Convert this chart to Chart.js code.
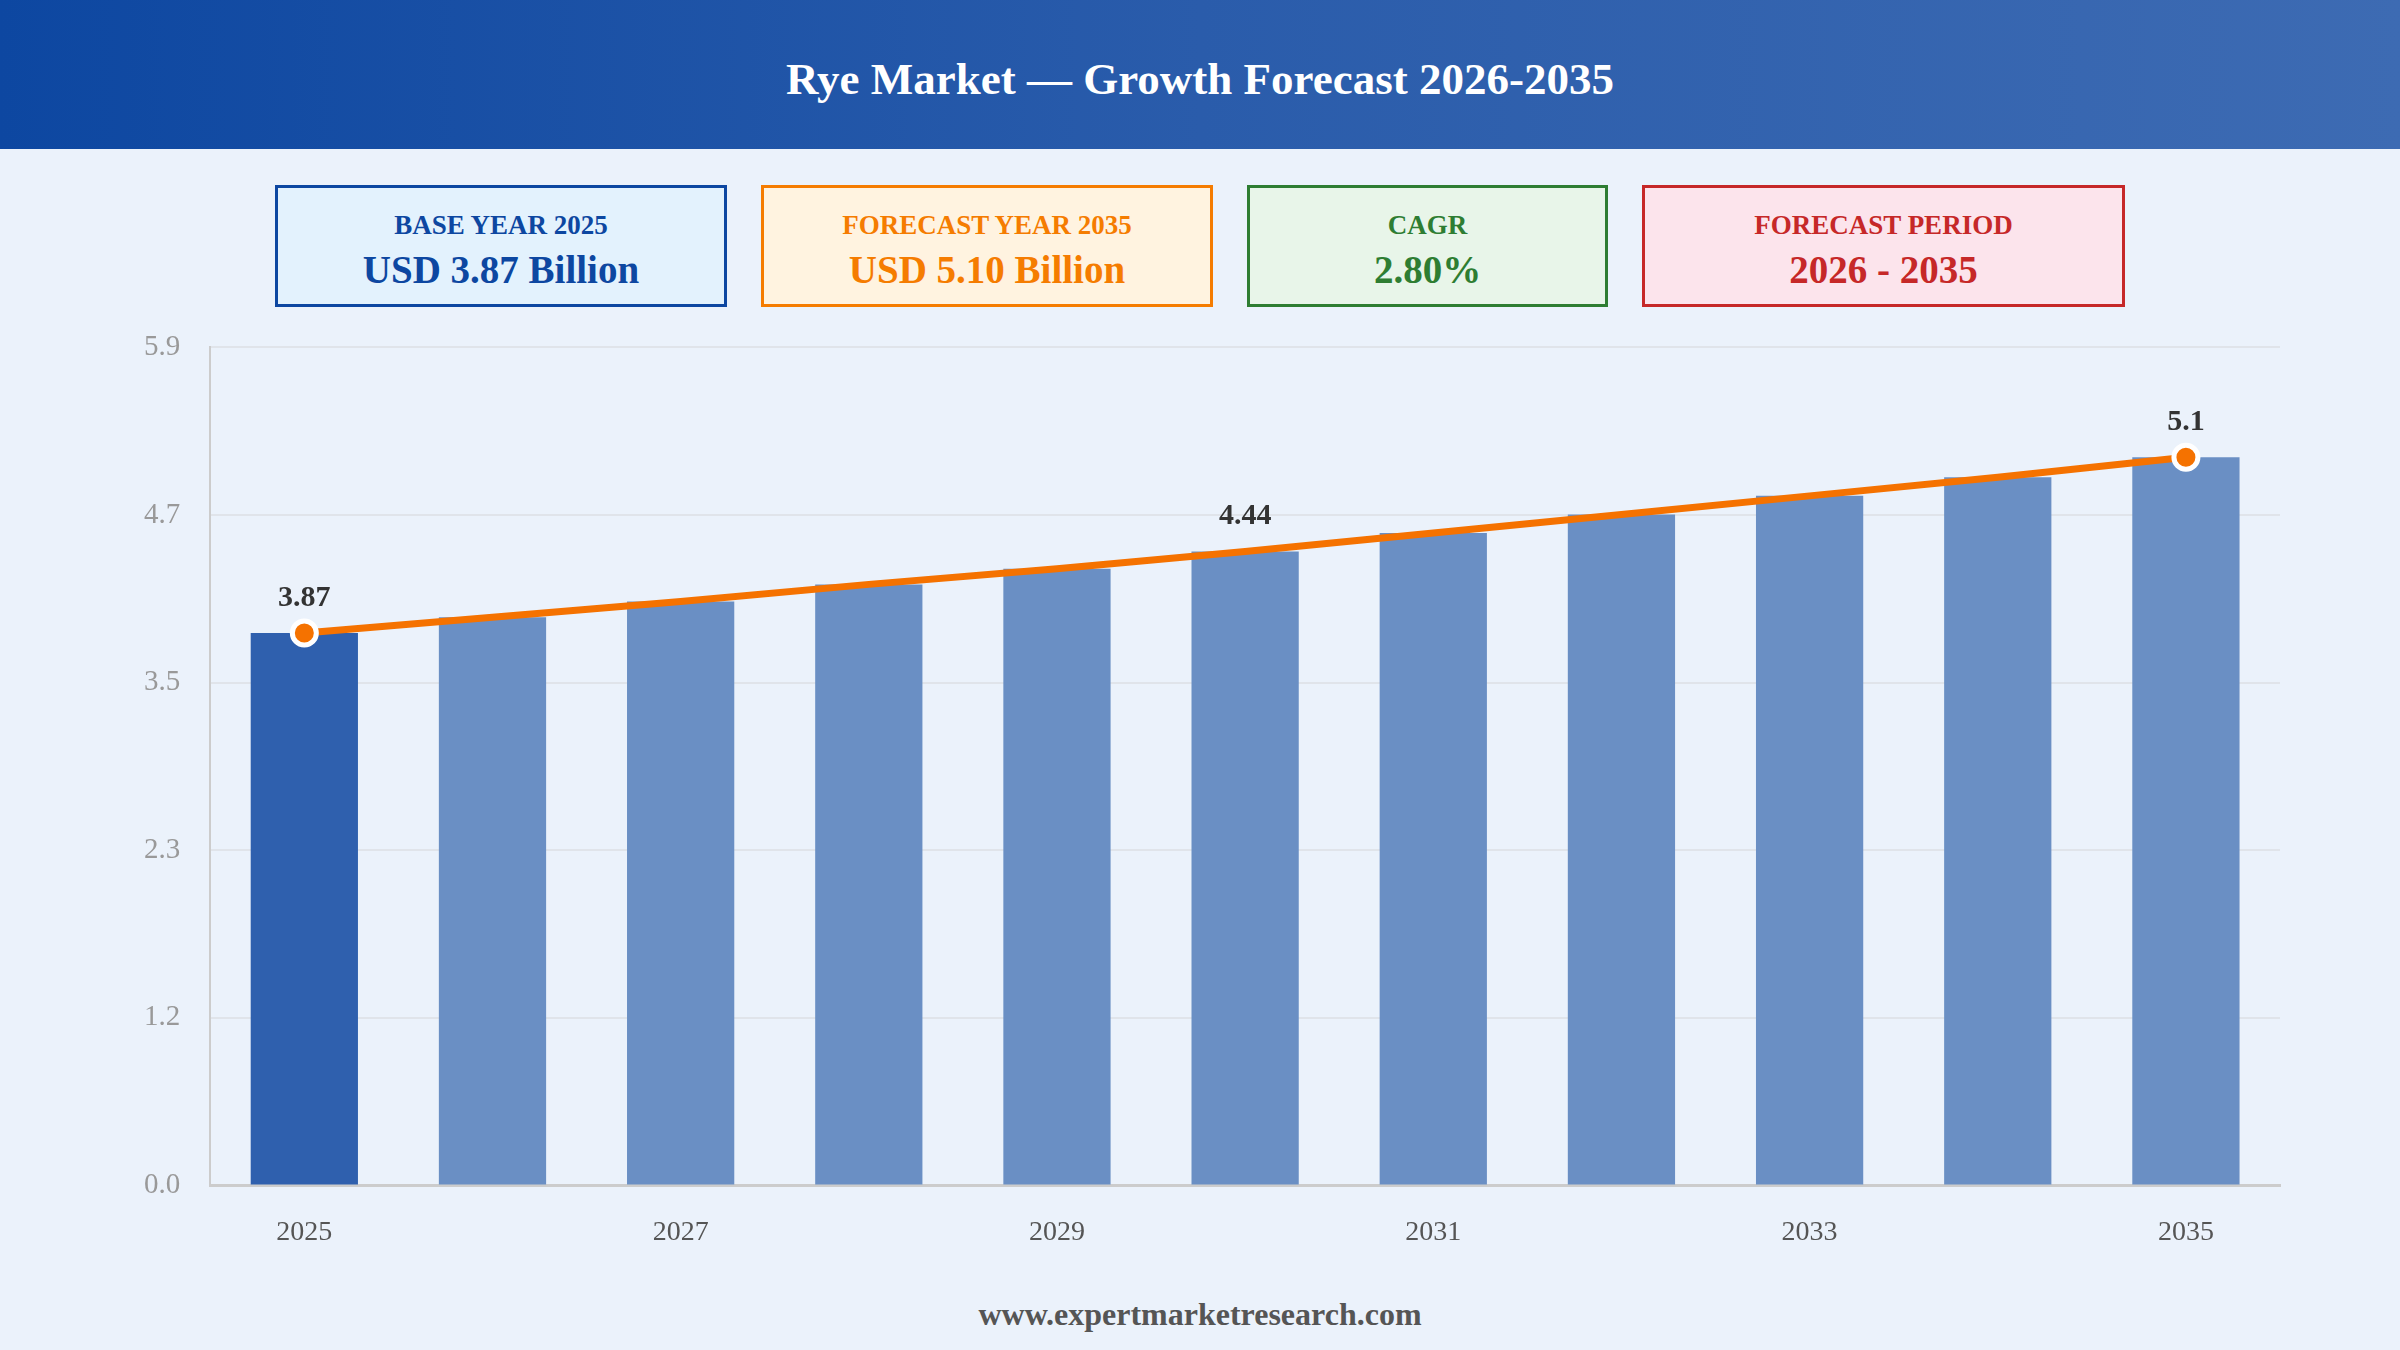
<!DOCTYPE html>
<html>
<head>
<meta charset="utf-8">
<script src="https://cdn.jsdelivr.net/npm/chart.js@4"></script>
<style>
  html, body { margin: 0; padding: 0; }
  body {
    width: 2400px; height: 1350px; overflow: hidden;
    background: #ebf2fb;
    font-family: "Liberation Serif", "Times New Roman", serif;
    position: relative;
  }
  .header {
    position: absolute; left: 0; top: 0; width: 2400px; height: 149px;
    background: linear-gradient(90deg, #0d47a1 0%, #2a5cab 50%, #3d6bb3 100%);
    color: #fff; font-weight: bold; font-size: 45px;
    display: flex; align-items: center; justify-content: center;
    padding-top: 8px; box-sizing: border-box;
  }
  .box {
    position: absolute; top: 185px; height: 122px;
    border: 3px solid; box-sizing: border-box;
    display: flex; flex-direction: column; align-items: center; justify-content: center;
    font-weight: bold; padding-top: 10px;
  }
  .box .lbl { font-size: 27px; margin-bottom: 6px; }
  .box .val { font-size: 39px; }
  .b1 { left: 275px; width: 452px; background: #e3f2fd; border-color: #0d47a1; color: #0d47a1; }
  .b2 { left: 761px; width: 452px; background: #fff3e0; border-color: #f57c00; color: #f57c00; }
  .b3 { left: 1247px; width: 361px; background: #e8f5e9; border-color: #2e7d32; color: #2e7d32; }
  .b4 { left: 1642px; width: 483px; background: #fce4ec; border-color: #c62828; color: #c62828; }
  .chartwrap { position: absolute; left: 0; top: 300px; width: 2400px; height: 989px; }
  .footer {
    position: absolute; left: 0; top: 1296px; width: 2400px; text-align: center;
    font-weight: bold; font-size: 32px; color: #555;
  }
</style>
</head>
<body>
<div class="header">Rye Market — Growth Forecast 2026-2035</div>
<div class="box b1"><div class="lbl">BASE YEAR 2025</div><div class="val">USD 3.87 Billion</div></div>
<div class="box b2"><div class="lbl">FORECAST YEAR 2035</div><div class="val">USD 5.10 Billion</div></div>
<div class="box b3"><div class="lbl">CAGR</div><div class="val">2.80%</div></div>
<div class="box b4"><div class="lbl">FORECAST PERIOD</div><div class="val">2026 - 2035</div></div>
<div class="chartwrap"><canvas id="chart"></canvas></div>
<div class="footer">www.expertmarketresearch.com</div>

<script>
// market size, USD billion
const years = ['2025', '2026', '2027', '2028', '2029', '2030', '2031', '2032', '2033', '2034', '2035'];
const marketValues = [3.87, 3.98, 4.09, 4.21, 4.32, 4.44, 4.57, 4.70, 4.83, 4.96, 5.10];
const labelledPoints = [0, 5, 10];
const yMax = 5.87;

const serif = '"Liberation Serif", "Times New Roman", serif';

// draw the value above selected points of the line
const pointLabels = {
  id: 'pointLabels',
  afterDatasetsDraw(chart) {
    const meta = chart.getDatasetMeta(1);
    const ctx = chart.ctx;
    ctx.save();
    ctx.font = 'bold 30px ' + serif;
    ctx.fillStyle = '#333';
    ctx.textAlign = 'center';
    ctx.textBaseline = 'bottom';
    labelledPoints.forEach(i => {
      const pt = meta.data[i];
      ctx.fillText(String(marketValues[i]), pt.x, pt.y - 20);
    });
    ctx.restore();
  }
};

const last = years.length - 1;

new Chart(document.getElementById('chart'), {
  data: {
    labels: years,
    datasets: [
      {
        type: 'bar',
        data: marketValues,
        backgroundColor: marketValues.map((v, i) => i === 0 ? '#2f60ae' : '#6a8fc4'),
        categoryPercentage: 1,
        barPercentage: 0.57,
        order: 2
      },
      {
        type: 'line',
        data: marketValues,
        borderColor: '#f57200',
        borderWidth: 7,
        tension: 0,
        pointRadius: c => (c.dataIndex === 0 || c.dataIndex === last) ? 12 : 0,
        pointBackgroundColor: '#f57200',
        pointBorderColor: '#ffffff',
        pointBorderWidth: 5,
        order: 1
      }
    ]
  },
  options: {
    responsive: true,
    maintainAspectRatio: false,
    animation: false,
    layout: { padding: { left: 114, right: 120, top: 0, bottom: 10 } },
    plugins: {
      legend: { display: false },
      tooltip: { enabled: false }
    },
    scales: {
      x: {
        grid: { display: false, drawTicks: false },
        border: { color: '#cccccc', width: 3 },
        ticks: {
          autoSkip: false,
          maxRotation: 0,
          padding: 30,
          color: '#555',
          font: { family: serif, size: 28 },
          callback: function (v, i) { return i % 2 === 0 ? this.getLabelForValue(v) : ''; }
        }
      },
      y: {
        min: 0,
        max: yMax,
        grid: { color: '#e0e4ea', lineWidth: 2, drawTicks: false },
        border: { color: '#cccccc', width: 2 },
        ticks: {
          count: 6,
          padding: 30,
          color: '#999',
          font: { family: serif, size: 29 },
          callback: v => Number(v).toFixed(1)
        }
      }
    }
  },
  plugins: [pointLabels]
});
</script>
</body>
</html>
